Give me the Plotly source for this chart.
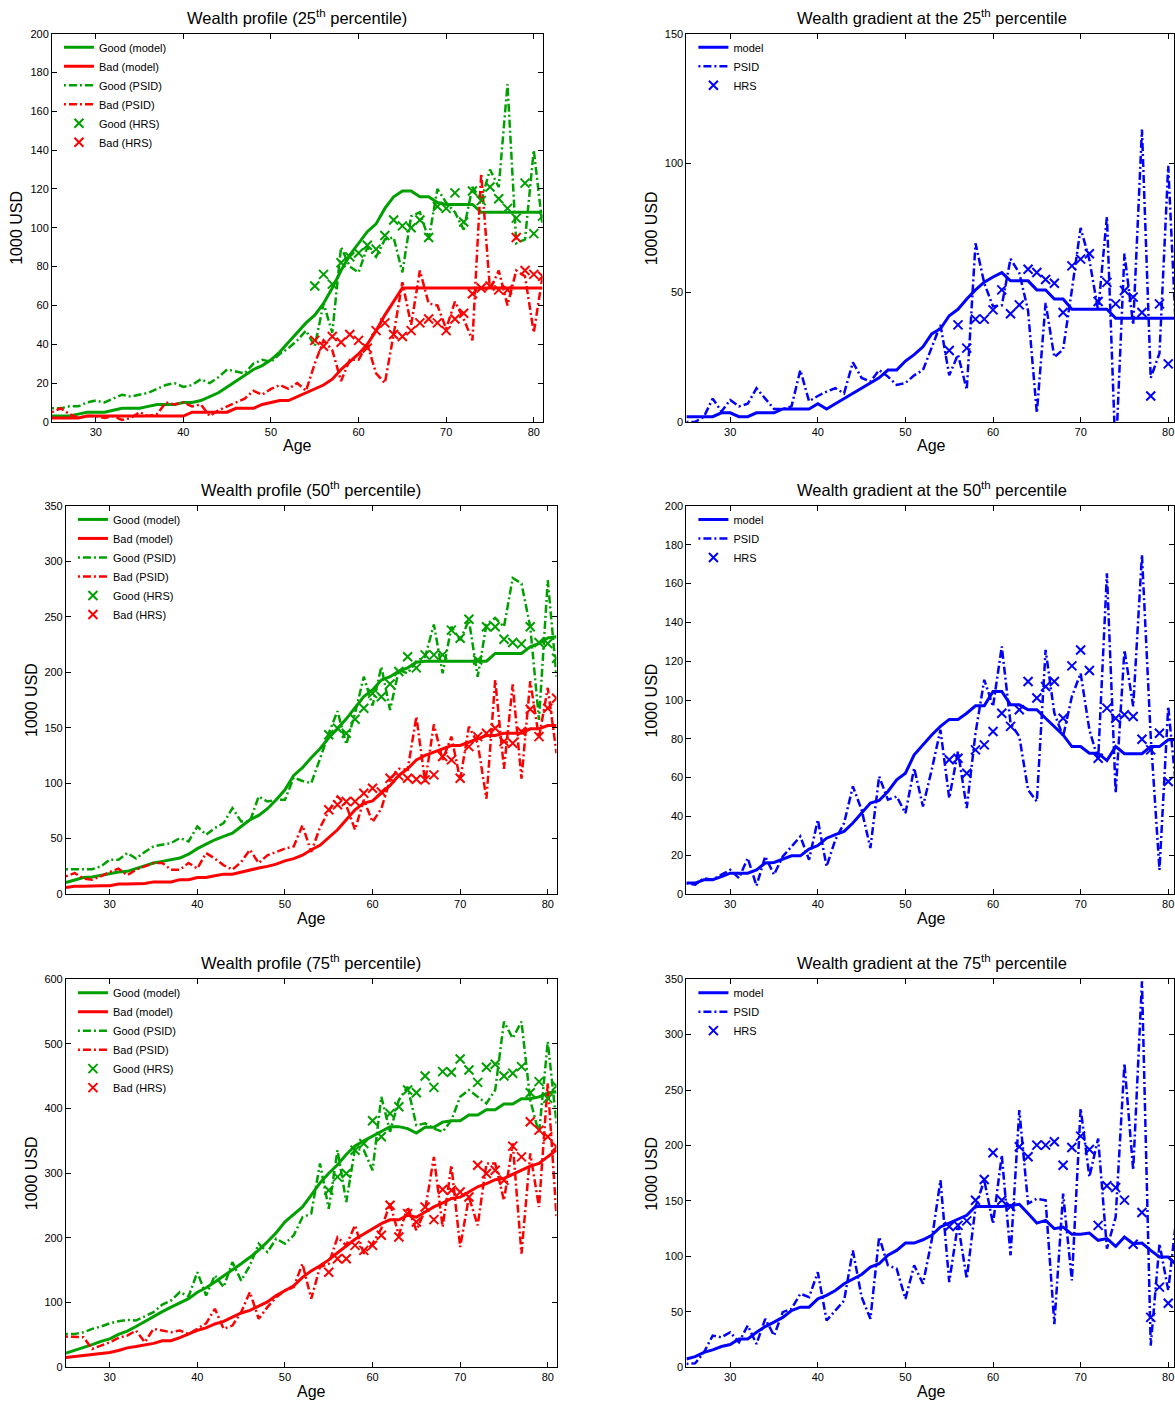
import plotly.graph_objects as go

# ---------------- data ----------------
ages = list(range(25, 82))
hrs_ages = list(range(55, 82))
hrs_ages_grad = list(range(55, 81))

# 25th percentile profile
tl_good_model = [3,3,3,4,5,5,5,6,7,7, 7,8,9,9,9,10,10,11,13,15, 18,21,24,27,29,32,36,41,46,51,
                 55,61,69,78,86,92,98,102,110,116, 119,119,116,116,113,112,112,112,112,108, 108,108,108,108,108,108,108]
tl_bad_model = [2,2,2,2,3,3,3,3,3,3, 3,3,3,3,3,3,5,5,5,5, 5,7,7,7,9,10,11,11,13,15,
                17,19,22,27,31,35,40,47,55,62, 69,69,69,69,69,69,69,69,69,69, 69,69,69,69,69,69,69]
tl_good_psid = [7,7,8,8,10,11,10,12,14,13, 14,15,17,19,20,18,19,22,20,23, 27,26,25,30,32,31,35,38,42,47,
                39,61,46,90,80,77,90,85,94,95, 77,106,108,94,120,113,108,99,121,114, 130,121,174,92,94,140,101]
tl_bad_psid = [5,7,4,2,3,3,2,3,1,2, 5,3,4,10,9,10,8,9,3,6, 8,10,12,16,14,17,19,17,20,16,
               30,42,37,21,32,32,40,25,20,45, 72,50,78,61,60,48,62,53,42,128, 68,78,60,78,75,46,75]
tl_good_hrs = [70,76,71,82,85,87,91,89,96,104,101,100,104,95,111,110,118,103,119,114,121,115,110,105,123,97,106]
tl_bad_hrs = [42,39,44,41,45,42,38,47,51,45,44,47,51,53,51,47,53,56,66,69,70,68,68,95,78,76,75]

# 25th percentile gradient
tr_model = [2,2,2,2,3.5,3.5,2,2,3.5,3.5, 3.5,5,5,5,5,7,5,7,9,11, 13,15,17,20,20,23.5,26,29,34,36,
            41,43.5,47.5,51,54,56,57.7,54.5,54.5,54.5, 51,51,47.5,47.5,43.5,43.5,43.5,43.5,43.5,40, 40,40,40,40,40,40,40]
tr_psid = [0,0,2,9,4,8.5,6,7,13,9, 5,5,6,20,8,10,11.7,13,11,23, 17,15.6,20,17.5,14.3,15,18,20,29,37.5,
           18,26,12.4,69,53.6,44.6,45,63,57.5,43, 3.4,46,25,28,51,75,62.6,43,79.4,-14, 65,37.5,113,17,26.5,99,26]
tr_hrs = [27.6,37.5,28.5,39.7,39.7,43.3,51,41.8,45.2,59,57.7,55,53.6,42.3,60.3,62.9,65,46.5,53.9,45.6,50.8,48.2,42.3,10,45.6,22.4]

# 50th percentile profile
ml_good_model = [10.5,13,15,15.5,17,19,20,20.5,23,26, 28,29.5,31,32.5,36,41,45,49,52,55, 61,67,71,77,85,94,107,114,123,131,
                 141,149,158,168,178,184,193,196,201,204, 209,210,210,210,210,210,210,210,210,217, 217,217,217,223,226,231,232]
ml_bad_model = [6,7,7,7.5,7.5,7.5,9,9,9,9.5, 11,11,11,13,13,15,15,16.5,18,18, 20,22,23.5,25,27,30,32,35,40,44,
                51,58,67,76,82,84,91,98,107,113, 121,125,128,131,134,134,137,140,143,143, 145,145,145,149,149,152,152]
ml_good_psid = [22.5,22.5,22.5,22.5,25,31,31,37,32,38, 43,44.5,46,50.5,47.5,61,53.5,59.5,64,77.5,
                65.5,65.5,88,83.5,85,85,105,102,100,122, 145,165,135,163,196,170,205,166,202,199,
                210,214,243,199,241,229,247,196,243,249, 241,285,280,241,157,283,196]
ml_bad_psid = [16,19,14,13,16,20,23,17,22,25, 28,28,22,22,28,23,37,32,26,22, 29,40,28,35,38,41,43,62,38,60,
               75,88,80,58,85,65,77,103,113,112, 160,101,153,121,142,103,151,136,86,193, 113,189,104,192,141,186,127]
ml_good_hrs = [143.6,149.6,145,157.7,167.6,181,178,189.5,200.7,214,204,215.7,215.7,215.7,238,230.7,247.8,211,241,241,
               229.8,226.8,225.6,241,226.8,226,212.7]
ml_bad_hrs = [76,80.5,83.5,83.5,91,95.5,92,104.5,106.6,104.5,103.6,103,107.5,124,121,104.5,133,142,145,149.6,
              137.6,136,146.6,166.7,142,167.6,176.6]

# 50th percentile gradient
mr_model = [5.7,5.7,7.4,7.4,9,10.8,10.8,10.8,12.5,16, 16.3,18,19.7,19.7,23.2,25,28.8,30.6,32.3,36.6,
            41.7,46.9,48.2,52.9,58.9,62.3,71.8,77,82,86.4, 90,90,93.2,97,97,104.4,104.4,97.5,97.5,95,
            95,90.6,86.4,82,76,76,72.6,72.6,68.8,76, 72.3,72.3,72.3,76,76,79.5,79.5]
mr_psid = [5.7,4.8,8.2,7.4,10,12.5,8.2,18.5,4.3,19.4, 10,19.4,24.5,29.7,17.7,38.3,14.2,28,36.6,55.5,
           43.4,23.7,60.6,48.6,50.3,41.7,64.9,45.2,64,84.6, 49.4,73.5,44.3,82.9,110.4,96.7,127.6,88,81.2,53.7,
           47.7,125.8,93.2,81.2,101.8,113.8,84.6,69.2,165.3,52, 125.8,96.7,174.8,81.2,12.5,96.7,50]
mr_hrs = [69.2,70,62.3,74.3,76.9,83.8,93.2,86.4,95,109.5,101,107,109.5,90.6,117.6,125.8,115.2,70,95.8,90.6,
          92.4,91.5,79.8,74.3,82.9,58]

# 75th percentile profile
bl_good_model = [22,26,31,35,40,44,51,56,63,71, 78,86,93,100,106,116,123,132,141,150, 160,170,181,194,208,225,236,248,266,285,
                 300,313,329,342,350,357,364,372,372,369, 362,371,371,379,381,381,390,390,398,398, 407,407,415,415,418,424,426]
bl_bad_model = [15,16.5,18,20,22,23,26,30,32,34, 37,41,41,46,52,57,61,67,71,78, 84,88,94,101,111,119,126,139,149,157,
                166,177,188,198,206,214,222,228,228,235, 232,240,248,254,261,263,271,279,284,290, 292,298,305,311,315,326,336]
bl_good_psid = [51.6,51.6,54.2,59.4,63,68,71.3,73.3,72.3,78.5, 85.2,97,103.3,116.2,109.5,147,111,142,124,162.6,
                134,157.5,191,178,198.8,191,204,232,237.5,315, 245,335.6,255.6,338,335.6,304.6,418,364,413,433.7,
                374,377,369,364,382,418,428.6,418,408,428.6, 534.4,508.6,534.4,413,361,503.4,377]
bl_bad_psid = [47.5,47.5,46.5,28.4,33.6,38.7,45.4,49,56.8,38.7, 59.4,56.8,54.2,56.8,51.6,59.4,68,90.4,59.4,64.5,
               85.2,116.2,74.9,93,108.4,118.8,124,160,105.9,155, 160,201,188.5,219.4,175.6,191,214.3,253,204,247.8,
               211.7,242.7,325.3,216.9,312.4,185.9,263.3,219.4,315,315, 258,346,175.6,330.5,247.8,438.9,232]
bl_good_hrs = [273.7,294.3,299.5,335.6,346,381,356.3,392.4,402.7,428.6,424.4,450.3,432.7,457,456,476.6,459.5,440.4,
               463.7,468.3,450.3,454.4,464.7,424.4,441.5,415.7,434.8]
bl_bad_hrs = [147,167.8,167.8,188.5,180.7,188.5,204,250.4,201.4,237.5,224.6,247.8,228.2,274.7,273.7,271,263.3,312.4,
              299.5,304.6,289,341.8,325.3,379.5,366.6,356.3,340.8]

# 75th percentile gradient
br_model = [7.5,9.6,13.5,15.7,18.7,20.5,25.6,25.6,31.6,36.7, 40.7,45,51.2,54.2,54.2,61.7,64.8,69.3,75.3,79.8,
            83.7,90.4,93.4,101,105.4,112,112,115,119,126.5, 130,134,137,145,145,145,145,146,147,138.6,
            130,132.5,125,126.5,119.9,119.9,121,114.5,116,109, 117.5,111.4,112,105.4,99.4,99.4,92]
br_psid = [3,3.6,13.5,28.6,27,31.6,22.6,37.7,21,43.7, 28.6,49.7,52.7,66.3,63.3,85.8,42.2,51.2,60.2,105.4,
           63.3,43.7,117.5,91.9,88.9,61.7,91.9,75.3,114.5,168.7, 76.8,129.5,79.8,144.6,168.7,129.5,191.3,101,232,147.6,
           152,150.6,39,156.6,78.3,233.4,171.7,206.3,107,135.5, 274,177.7,348,19.6,111.4,69.3,140]
br_hrs = [127,128,132,150.6,169.3,193.4,150.6,145,198.8,189.8,200.3,200.3,203.3,182.2,198.2,208.4,196.4,128,
          163.7,162,150.7,111,139.6,45,72.3,57.8]

x_ticks = [30, 40, 50, 60, 70, 80]
pctl = ["25", "50", "75"]

# ---------------- style ----------------
W, H = 1175, 1401
GREEN, RED, BLUE = "#00a000", "#ff0000", "#0000ff"
FONT = "Liberation Sans, Arial, Helvetica, sans-serif"
DASHDOT = "2px,3px,8px,3px"

# vertical calibration of the rendered page (observed: out = 6.3 + 0.991 * in)
V_OFF, V_SCALE = 6.3, 0.991


def fx(p):
    return p / W


def fy(p):
    q = (p - V_OFF) / V_SCALE
    return 1 - q / H


fig = go.Figure()

panels = [
    # (left, right_px_visible, right_frame, top, bottom, ymax, dtick, kind, pct, data)
    (52, 543, 543, 34, 422, 200, 20, "profile", pctl[0],
     (tl_good_model, tl_bad_model, tl_good_psid, tl_bad_psid, tl_good_hrs, tl_bad_hrs)),
    (687, 1175, 1178, 34, 422, 150, 50, "gradient", pctl[0], (tr_model, tr_psid, tr_hrs)),
    (66, 557, 557, 506, 894, 350, 50, "profile", pctl[1],
     (ml_good_model, ml_bad_model, ml_good_psid, ml_bad_psid, ml_good_hrs, ml_bad_hrs)),
    (687, 1175, 1178, 506, 894, 200, 20, "gradient", pctl[1], (mr_model, mr_psid, mr_hrs)),
    (66, 557, 557, 979, 1367, 600, 100, "profile", pctl[2],
     (bl_good_model, bl_bad_model, bl_good_psid, bl_bad_psid, bl_good_hrs, bl_bad_hrs)),
    (687, 1175, 1178, 979, 1367, 350, 50, "gradient", pctl[2], (br_model, br_psid, br_hrs)),
]

annotations = []
layout_axes = {}
for i, (l, rv, rf, t, b, ymax, dt, kind, pct, data) in enumerate(panels, start=1):
    xa = "x" if i == 1 else f"x{i}"
    ya = "y" if i == 1 else f"y{i}"
    lg = "legend" if i == 1 else f"legend{i}"
    xmax = 25 + (rv - l) * 56.0 / (rf - l)

    def line(x, y, name, color, dash, width):
        fig.add_trace(go.Scatter(x=x, y=y, name=name, mode="lines", xaxis=xa, yaxis=ya, legend=lg,
                                 line=dict(color=color, width=width, dash=dash)))

    def marks(x, y, name, color):
        fig.add_trace(go.Scatter(x=x, y=y, name=name, mode="markers", xaxis=xa, yaxis=ya, legend=lg,
                                 marker=dict(symbol="x-thin", size=9, color=color,
                                             line=dict(color=color, width=2))))

    if kind == "profile":
        gm, bm, gp, bp, gh, bh = data
        line(ages, gm, "Good (model)", GREEN, "solid", 3)
        line(ages, bm, "Bad (model)", RED, "solid", 3)
        line(ages, gp, "Good (PSID)", GREEN, DASHDOT, 2.5)
        line(ages, bp, "Bad (PSID)", RED, DASHDOT, 2.5)
        marks(hrs_ages, gh, "Good (HRS)", GREEN)
        marks(hrs_ages, bh, "Bad (HRS)", RED)
        title = f"Wealth profile ({pct}<sup>th</sup> percentile)"
    else:
        m, p, h = data
        line(ages, m, "model", BLUE, "solid", 3)
        line(ages, p, "PSID", BLUE, DASHDOT, 2.5)
        marks(hrs_ages_grad, h, "HRS", BLUE)
        title = f"Wealth gradient at the {pct}<sup>th</sup> percentile"

    axis_common = dict(showline=True, linecolor="black", linewidth=1, mirror="ticks",
                       ticks="inside", ticklen=5, tickwidth=1, tickcolor="black",
                       showgrid=False, zeroline=False,
                       tickfont=dict(family=FONT, size=11, color="black"))
    layout_axes["xaxis" if i == 1 else f"xaxis{i}"] = dict(
        domain=[fx(l), fx(rv)], range=[25, xmax], anchor=ya, tickvals=x_ticks, **axis_common)
    layout_axes["yaxis" if i == 1 else f"yaxis{i}"] = dict(
        domain=[fy(b), fy(t)], range=[0, ymax], anchor=xa, dtick=dt, tick0=0, **axis_common)
    layout_axes[lg] = dict(x=fx(l + 7), y=fy(t - 1), xanchor="left", yanchor="top",
                           bgcolor="rgba(0,0,0,0)", borderwidth=0, tracegroupgap=0,
                           font=dict(family=FONT, size=11, color="black"))

    cx = (l + rf) / 2.0
    annotations.append(dict(text=title, x=fx(cx), y=fy(t - 17), xref="paper", yref="paper",
                            xanchor="center", yanchor="middle", showarrow=False,
                            font=dict(family=FONT, size=16.5, color="black")))
    annotations.append(dict(text="Age", x=fx(cx), y=fy(b + 24), xref="paper", yref="paper",
                            xanchor="center", yanchor="middle", showarrow=False,
                            font=dict(family=FONT, size=16, color="black")))
    annotations.append(dict(text="1000 USD", x=fx(l - 35), y=fy((t + b) / 2.0), xref="paper", yref="paper",
                            xanchor="center", yanchor="middle", showarrow=False, textangle=-90,
                            font=dict(family=FONT, size=16, color="black")))

fig.update_layout(width=W, height=H, margin=dict(l=0, r=0, t=0, b=0),
                  paper_bgcolor="white", plot_bgcolor="white", showlegend=True,
                  annotations=annotations, **layout_axes)

fig.write_html("out.html", config={"displayModeBar": False},
               post_script="document.body.style.margin='0';document.body.style.overflow='hidden';")
